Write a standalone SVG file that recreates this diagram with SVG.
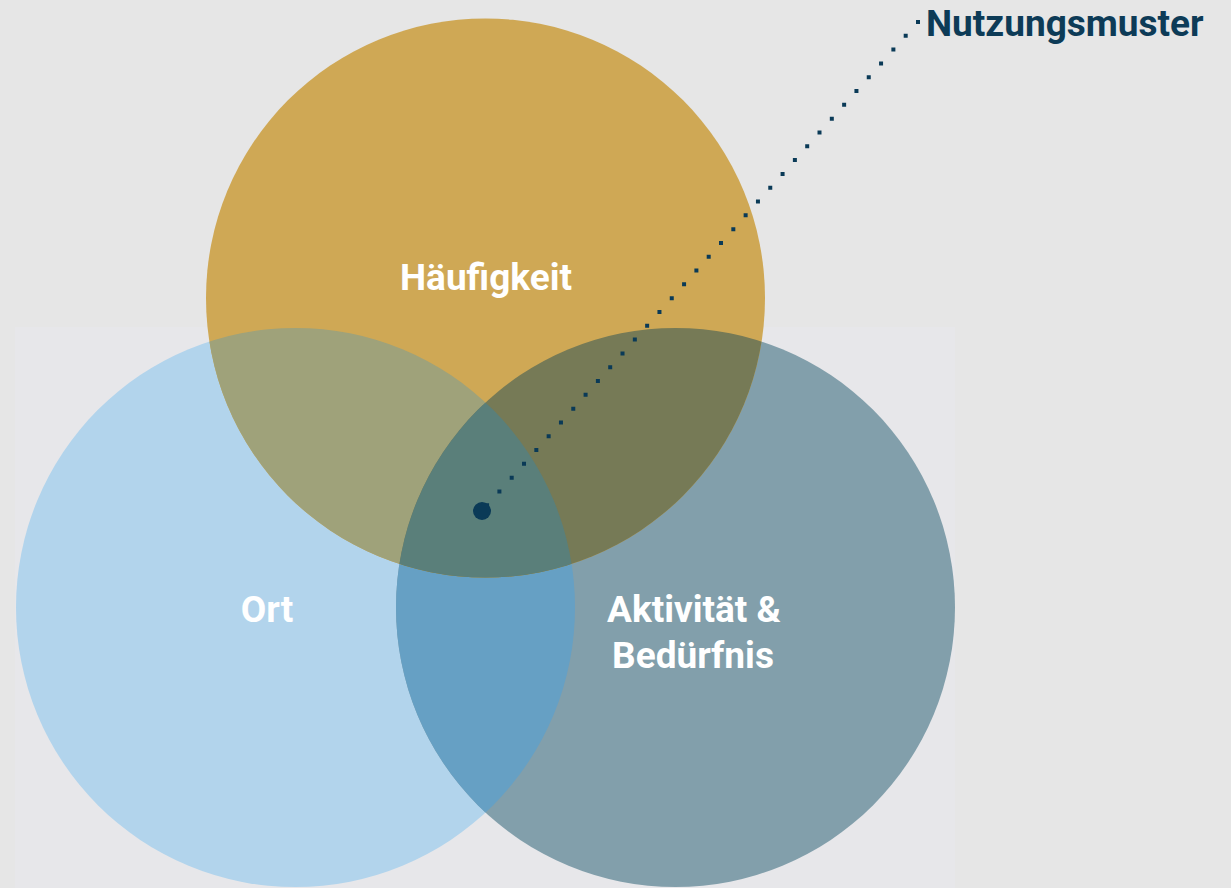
<svg xmlns="http://www.w3.org/2000/svg" width="1231" height="888" viewBox="0 0 1231 888">
<style>
.lbl{font-family:Roboto,"Liberation Sans",sans-serif;font-weight:700;font-size:37px;fill:#ffffff;text-anchor:middle}
.title{font-family:Roboto,"Liberation Sans",sans-serif;font-weight:700;font-size:37px;fill:#0d3b57}
</style>
<defs>
<clipPath id="cOrt"><circle cx="295.5" cy="607.5" r="279.5"/></clipPath>
<clipPath id="cAkt"><circle cx="675.5" cy="607.5" r="279.5"/></clipPath>
</defs>
<rect width="1231" height="888" fill="#e6e6e6"/>
<rect x="15" y="327" width="940" height="561" fill="#e7e7ea"/>
<g id="ort"><circle cx="295.5" cy="607.5" r="279.5" fill="#b2d4ec"/></g>
<g id="aktivitaet"><circle cx="675.5" cy="607.5" r="279.5" fill="#829fab"/></g>
<g id="ort-aktivitaet" clip-path="url(#cOrt)"><circle cx="675.5" cy="607.5" r="279.5" fill="#66a0c4"/></g>
<g id="haeufigkeit"><circle cx="485.5" cy="298" r="279.5" fill="#cfa855"/></g>
<g id="haeufigkeit-ort" clip-path="url(#cOrt)"><circle cx="485.5" cy="298" r="279.5" fill="#9fa27a"/></g>
<g id="haeufigkeit-aktivitaet" clip-path="url(#cAkt)"><circle cx="485.5" cy="298" r="279.5" fill="#767a56"/></g>
<g id="zentrum" clip-path="url(#cAkt)"><g clip-path="url(#cOrt)"><circle cx="485.5" cy="298" r="279.5" fill="#5a7f7a"/></g></g>
<g id="labels">
<text class="lbl" x="486" y="290">Häufigkeit</text>
<text class="lbl" x="267" y="622">Ort</text>
<text class="lbl" x="694" y="622">Aktivität &amp;</text>
<text class="lbl" x="693" y="668">Bedürfnis</text>
</g>
<g id="connectors">
<line x1="918" y1="22" x2="482" y2="511" stroke="#0a3a57" stroke-width="4" stroke-linecap="square" stroke-dasharray="0 18.5"/>
<circle cx="482" cy="511" r="9" fill="#0a3a57"/>
</g>
<g id="nutzungsmuster"><text class="title" x="926" y="36">Nutzungsmuster</text></g>
</svg>
